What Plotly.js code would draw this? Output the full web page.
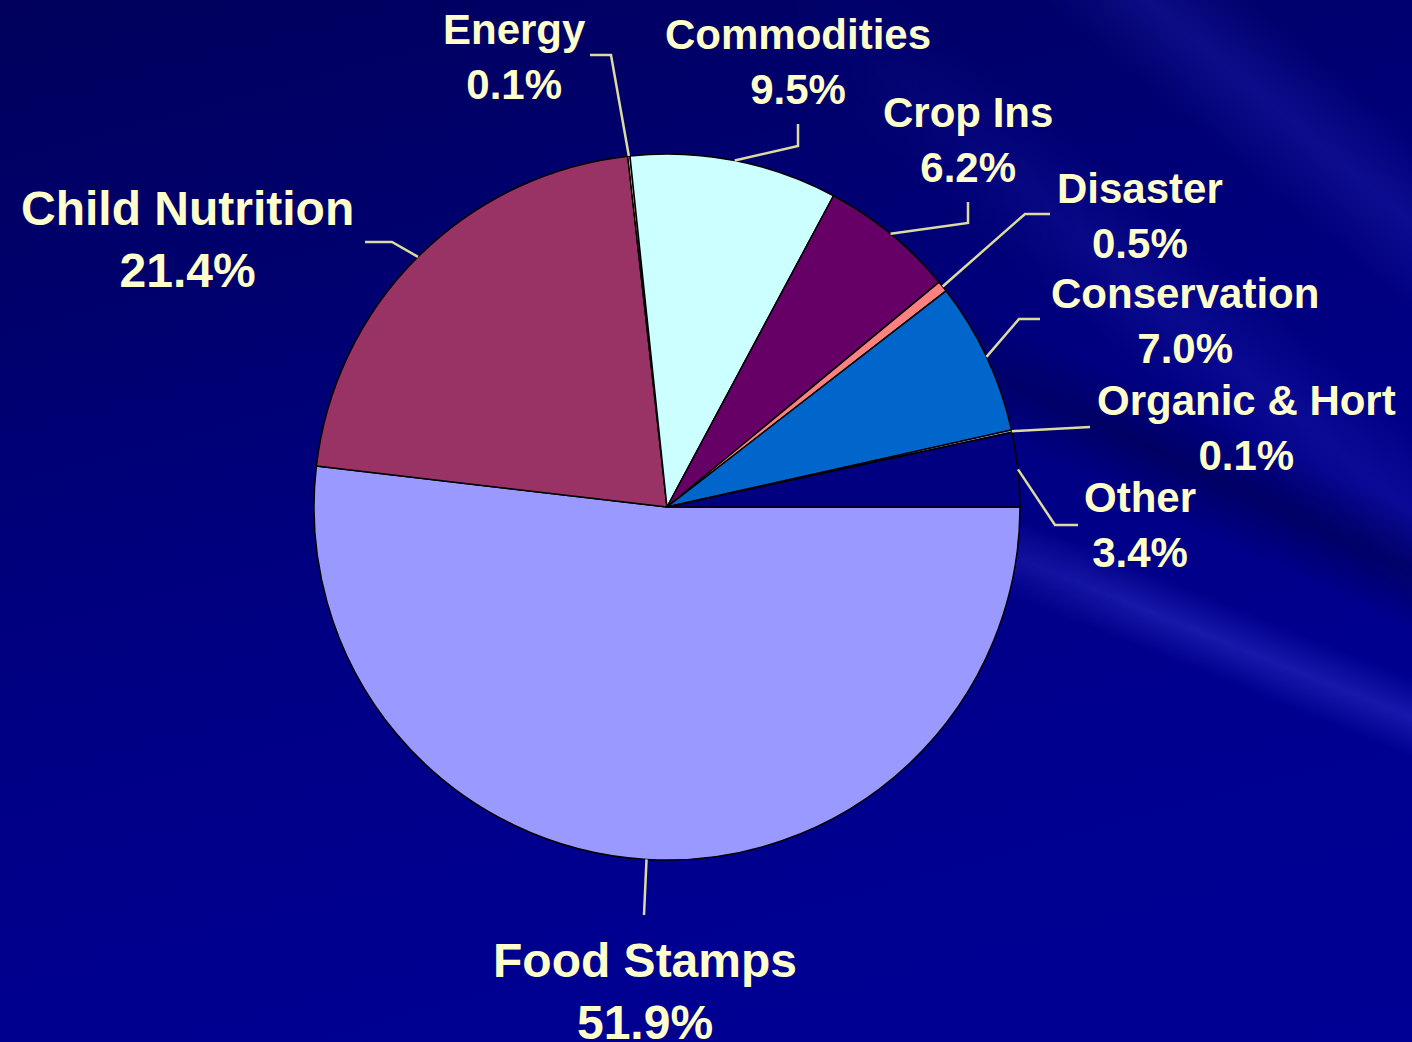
<!DOCTYPE html>
<html>
<head>
<meta charset="utf-8">
<script src="https://cdn.plot.ly/plotly-3.0.1.min.js"></script>
<style>
html, body { margin:0; padding:0; width:1412px; height:1042px; overflow:hidden; }
body {
  position: relative;
  background: linear-gradient(165deg, #00005C 0%, #00006C 22%, #000082 48%, #00008F 72%, #000094 100%);
}
#streaks {
  position: absolute; left:0; top:0; width:1412px; height:1042px;
  background:
    linear-gradient(202deg, rgba(0,0,0,0) 42%, rgba(80,80,240,0.30) 44.5%, rgba(0,0,0,0) 47%),
    linear-gradient(205deg, rgba(0,0,0,0) 30%, rgba(0,0,60,0.45) 33.5%, rgba(0,0,0,0) 37%),
    linear-gradient(220deg, rgba(0,0,0,0) 6%, rgba(50,50,210,0.25) 10%, rgba(0,0,0,0) 14%, rgba(0,0,0,0) 19%, rgba(50,50,210,0.2) 23%, rgba(0,0,0,0) 27%);
  -webkit-mask-image: linear-gradient(to right, rgba(0,0,0,0) 55%, rgba(0,0,0,1) 80%);
  mask-image: linear-gradient(to right, rgba(0,0,0,0) 55%, rgba(0,0,0,1) 80%);
}
#chart { position:absolute; left:0; top:0; width:1412px; height:1042px; }
</style>
</head>
<body>
<div id="streaks"></div>
<div id="chart"></div>
<script>
// ---- data ----
const categories = ['Food Stamps', 'Child Nutrition', 'Energy', 'Commodities', 'Crop Ins',
                    'Disaster', 'Conservation', 'Organic & Hort', 'Other'];
const shares = [51.9, 21.4, 0.1, 9.5, 6.2, 0.5, 7.0, 0.1, 3.4];

// ---- styles ----
const sliceColors = ['#9999FF', '#993366', '#FFFFCC', '#CCFFFF', '#660066',
                     '#FF8080', '#0066CC', '#CCCCFF', '#000080'];
const W = 1412, H = 1042;
const CX = 667, CY = 507, R = 353;       // pie placement (px)
const textColor = '#FFFFCC';
const leaderColor = '#DCDC9E';

// label layout: text block centre (px), font size, leader elbow/end points (px)
const labelLayout = [
  { tx: 645,  ty: 991, size: 48, path: [[644, 915]] },
  { tx: 187,  ty: 240, size: 48, path: [[392, 242], [365, 242]] },
  { tx: 514,  ty: 57,  size: 42, path: [[611, 55], [590, 55]] },
  { tx: 798,  ty: 62,  size: 42, path: [[798, 146], [798, 124]] },
  { tx: 968,  ty: 140, size: 42, path: [[968, 223], [968, 202]] },
  { tx: 1140, ty: 216, size: 42, path: [[1025, 214], [1050, 214]] },
  { tx: 1185, ty: 321, size: 42, path: [[1019, 319], [1040, 319]] },
  { tx: 1246, ty: 428, size: 42, path: [[1090, 427]] },
  { tx: 1140, ty: 525, size: 42, path: [[1055, 525], [1078, 525]] }
];

const total = shares.reduce((a, b) => a + b, 0);
const rotationDeg = 90; // first slice starts at 3 o'clock, clockwise

// pie domain from placement
const domX = [(CX - R) / W, (CX + R) / W];
const domY = [1 - (CY + R) / H, 1 - (CY - R) / H];

const px2x = x => x / W;
const px2y = y => 1 - y / H;

const annotations = [];
const shapes = [];
let cum = 0;
shares.forEach((v, i) => {
  const mid = rotationDeg + (cum + v / 2) / total * 360;
  cum += v;
  const a = mid * Math.PI / 180;
  const sx = CX + R * Math.sin(a);
  const sy = CY - R * Math.cos(a);
  const L = labelLayout[i];
  let d = 'M ' + px2x(sx) + ' ' + px2y(sy);
  L.path.forEach(p => { d += ' L ' + px2x(p[0]) + ' ' + px2y(p[1]); });
  shapes.push({
    type: 'path', xref: 'paper', yref: 'paper', path: d,
    line: { color: leaderColor, width: 2.5 }
  });
  annotations.push({
    xref: 'paper', yref: 'paper', x: px2x(L.tx), y: px2y(L.ty),
    xanchor: 'center', yanchor: 'middle', showarrow: false, align: 'center',
    text: categories[i] + '<br>' + v.toFixed(1) + '%',
    font: { family: 'Liberation Sans, Arial, sans-serif', size: L.size, color: textColor, weight: 'bold' }
  });
});

const trace = {
  type: 'pie',
  labels: categories,
  values: shares,
  sort: false,
  direction: 'clockwise',
  rotation: rotationDeg,
  textinfo: 'none',
  hoverinfo: 'label+percent',
  marker: { colors: sliceColors, line: { color: '#000000', width: 1.5 } },
  domain: { x: domX, y: domY },
  showlegend: false
};

const layout = {
  width: W, height: H,
  margin: { l: 0, r: 0, t: 0, b: 0 },
  paper_bgcolor: 'rgba(0,0,0,0)',
  plot_bgcolor: 'rgba(0,0,0,0)',
  showlegend: false,
  annotations: annotations,
  shapes: shapes
};

Plotly.newPlot('chart', [trace], layout, { displayModeBar: false, staticPlot: true });
</script>
</body>
</html>
